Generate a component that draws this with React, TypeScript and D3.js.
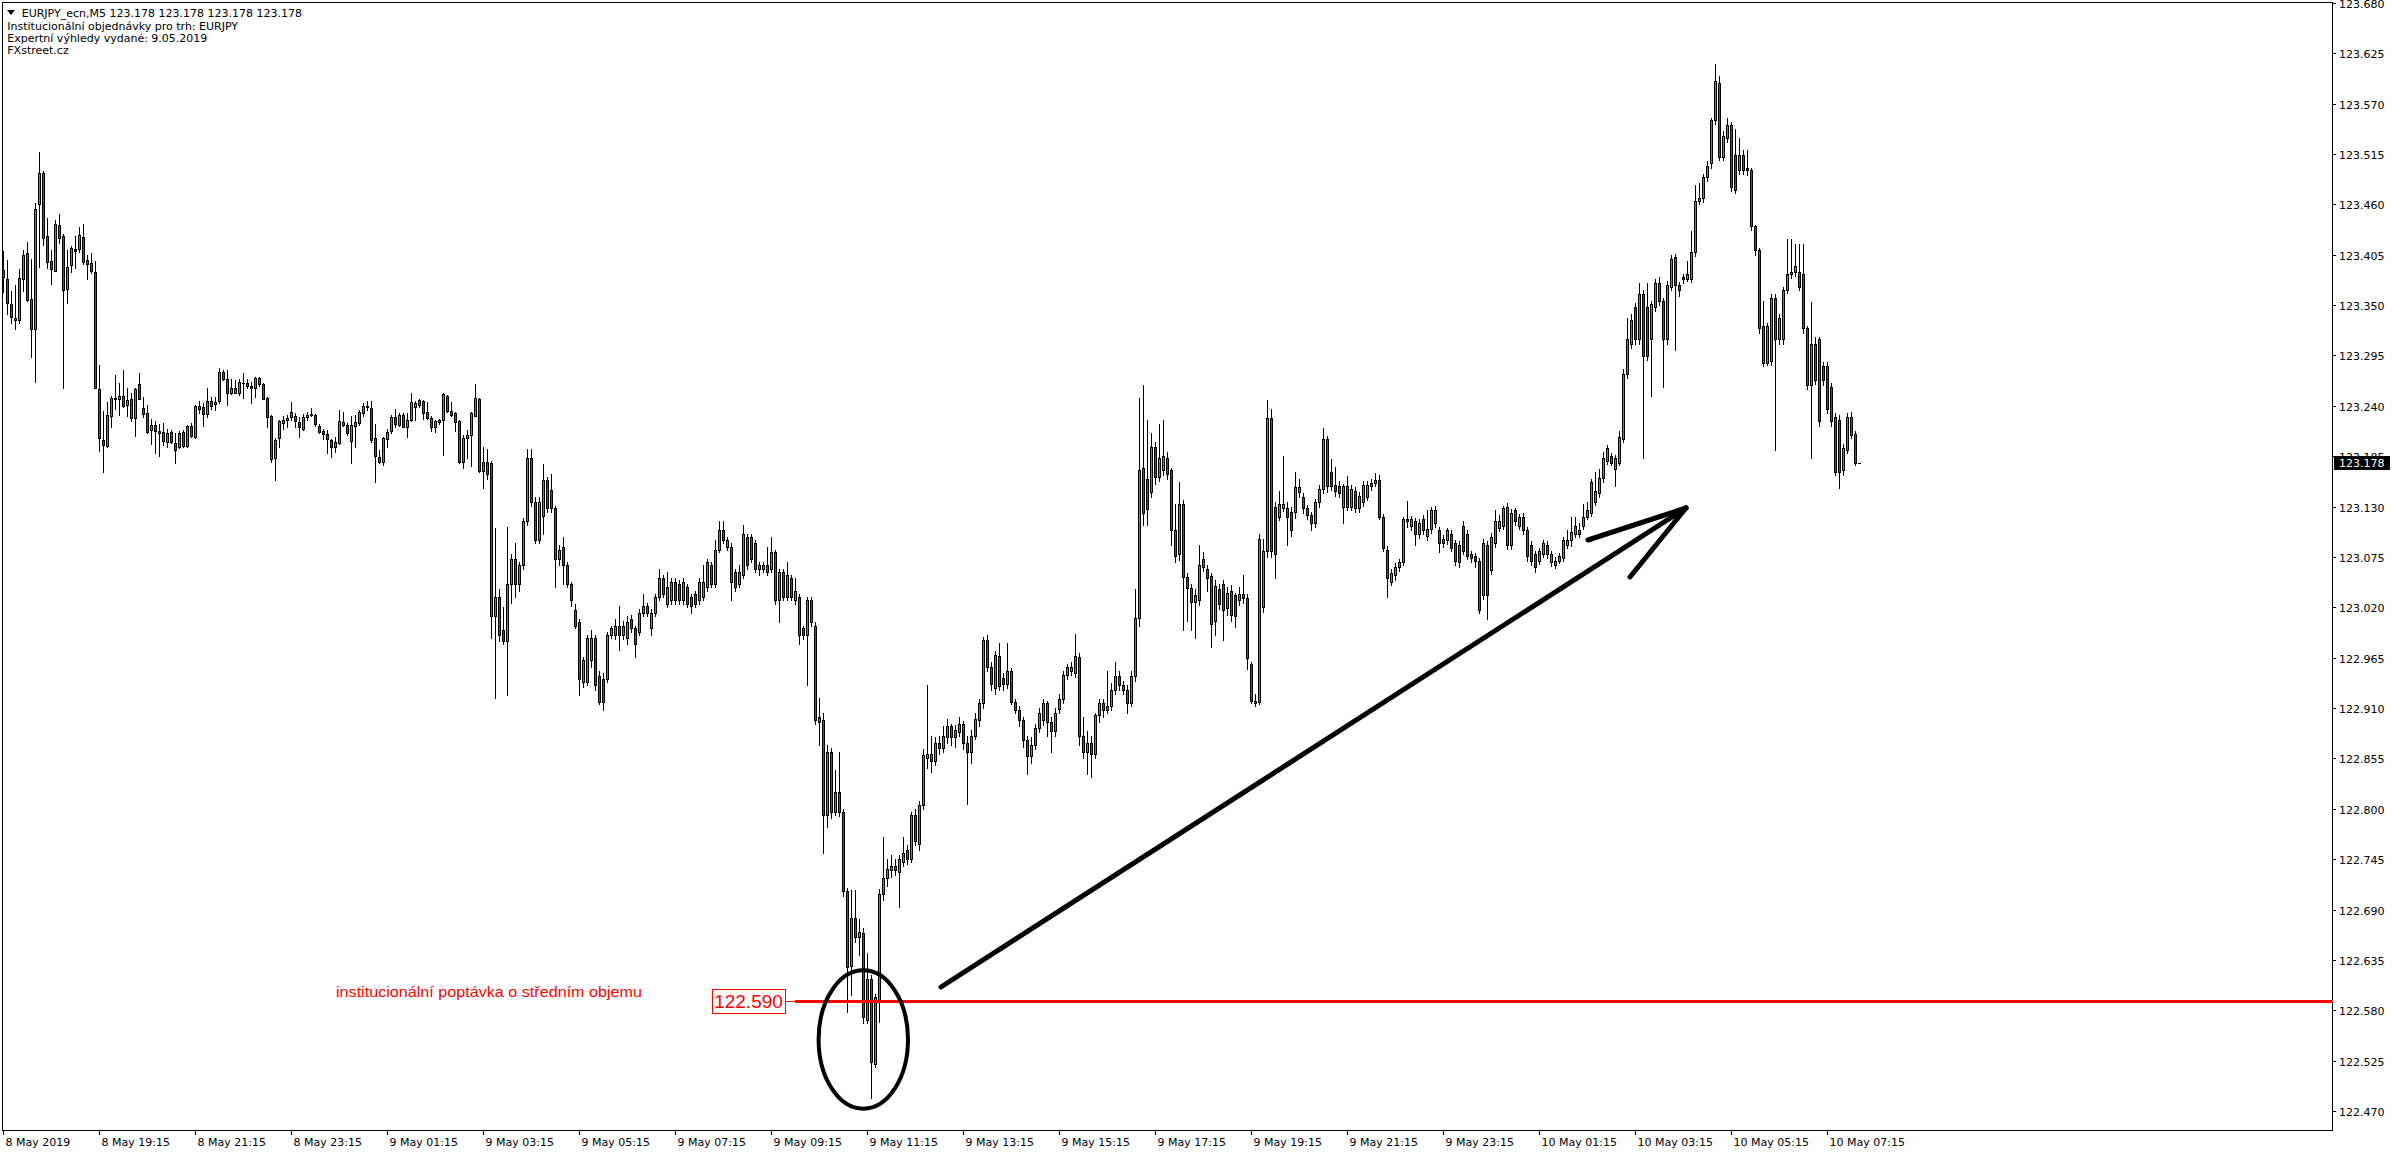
import React from 'react';
import * as d3 from 'd3';

if (typeof document !== 'undefined') {
  document.body.style.margin = '0';
}

// ---- OHLC data (EURJPY M5), bar 0 = 8 May 17:15 ----
const opens = [
123.388,123.379,123.351,123.336,123.334,123.379,123.407,123.357,123.324,123.460,
123.494,123.425,123.398,123.387,123.437,123.425,123.368,123.394,123.411,123.411,
123.424,123.399,123.396,123.386,123.258,123.203,123.196,123.229,123.248,123.248,
123.251,123.241,123.247,123.227,123.264,123.238,123.232,123.214,123.219,123.213,
123.211,123.201,123.211,123.199,123.195,123.211,123.196,123.218,123.206,123.240,
123.239,123.231,123.245,123.242,123.245,123.277,123.269,123.254,123.254,123.254,
123.265,123.265,123.260,123.260,123.270,123.264,123.249,123.229,123.183,123.205,
123.221,123.225,123.228,123.229,123.222,123.215,123.228,123.230,123.230,123.218,
123.213,123.209,123.203,123.195,123.199,123.222,123.219,123.202,123.218,123.221,
123.232,123.239,123.238,123.205,123.184,123.179,123.204,123.213,123.228,123.219,
123.230,123.217,123.224,123.239,123.246,123.245,123.233,123.227,123.217,123.222,
123.224,123.251,123.234,123.232,123.223,123.179,123.205,123.208,123.229,123.248,
123.169,123.179,123.178,123.011,123.031,122.995,122.983,123.045,123.073,123.045,
123.066,123.114,123.183,123.135,123.093,123.120,123.159,123.148,123.128,123.073,
123.086,123.066,123.045,123.017,123.004,122.938,122.938,122.962,122.986,122.945,
122.942,122.942,122.990,122.990,123.000,122.990,122.986,123.007,122.997,122.993,
123.014,123.021,122.997,123.014,123.031,123.052,123.024,123.028,123.048,123.045,
123.028,123.042,123.031,123.035,123.028,123.031,123.042,123.066,123.045,123.083,
123.104,123.086,123.086,123.059,123.045,123.055,123.097,123.097,123.090,123.062,
123.062,123.066,123.062,123.080,123.028,123.059,123.031,123.052,123.028,123.031,
122.997,122.990,123.028,123.000,122.900,122.897,122.793,122.862,122.796,122.818,
122.796,122.710,122.628,122.681,122.660,122.664,122.569,122.614,122.521,122.591,
122.707,122.724,122.733,122.738,122.731,122.742,122.755,122.745,122.793,122.762,
122.804,122.856,122.860,122.852,122.872,122.866,122.878,122.890,122.878,122.884,
122.893,122.872,122.862,122.880,122.897,122.915,122.984,122.955,122.932,122.967,
122.943,122.936,122.950,122.917,122.908,122.897,122.875,122.858,122.870,122.888,
122.897,122.915,122.895,122.885,122.909,122.920,122.946,122.950,122.948,122.966,
122.880,122.862,122.872,122.860,122.902,122.915,122.908,122.912,122.930,122.945,
122.935,122.930,122.915,122.945,123.008,123.172,123.160,123.146,123.195,123.162,
123.170,123.183,123.170,123.104,123.078,123.133,123.053,123.041,123.026,123.028,
123.064,123.062,123.054,123.005,123.040,123.045,123.019,123.038,123.033,123.028,
123.035,123.030,122.958,122.915,122.917,123.020,123.081,123.227,123.130,123.119,
123.128,123.128,123.124,123.124,123.146,123.140,123.128,123.121,123.112,123.135,
123.149,123.204,123.168,123.154,123.152,123.130,123.152,123.130,123.147,123.128,
123.135,123.140,123.152,123.156,123.159,123.119,123.083,123.048,123.055,123.064,
123.069,123.116,123.109,123.114,123.100,123.116,123.098,123.105,123.112,123.104,
123.095,123.093,123.100,123.090,123.088,123.109,123.100,123.078,123.076,123.071,
123.033,123.088,123.061,123.090,123.107,123.109,123.130,123.088,123.126,123.109,
123.119,123.104,123.088,123.078,123.071,123.078,123.088,123.069,123.066,123.071,
123.074,123.088,123.093,123.100,123.100,123.109,123.119,123.123,123.135,123.145,
123.161,123.180,123.185,123.171,123.178,123.204,123.275,123.308,123.348,123.313,
123.362,123.348,123.313,123.348,123.374,123.355,123.313,123.370,123.403,123.372,
123.381,123.379,123.379,123.408,123.464,123.467,123.490,123.505,123.552,123.593,
123.512,123.533,123.547,123.514,123.497,123.514,123.500,123.497,123.436,123.410,
123.327,123.287,123.289,123.358,123.313,123.313,123.367,123.384,123.386,123.386,
123.384,123.325,123.263,123.308,123.313,123.284,123.284,123.261,123.228,123.225,
123.170,123.192,123.228,123.209,123.178
];
const highs = [
123.409,123.399,123.365,123.372,123.389,123.410,123.419,123.400,123.462,123.517,
123.496,123.445,123.410,123.443,123.449,123.428,123.410,123.415,123.425,123.435,
123.439,123.405,123.407,123.398,123.285,123.234,123.244,123.251,123.274,123.265,
123.279,123.259,123.254,123.260,123.276,123.250,123.241,123.226,123.223,123.220,
123.221,123.215,123.214,123.210,123.212,123.214,123.219,123.221,123.241,123.245,
123.243,123.259,123.250,123.250,123.281,123.279,123.279,123.269,123.268,123.269,
123.276,123.269,123.266,123.272,123.272,123.265,123.250,123.230,123.205,123.225,
123.229,123.230,123.244,123.232,123.228,123.231,123.233,123.238,123.231,123.220,
123.215,123.214,123.204,123.206,123.235,123.233,123.221,123.229,123.230,123.235,
123.243,123.245,123.245,123.220,123.192,123.206,123.215,123.230,123.237,123.232,
123.232,123.232,123.254,123.245,123.247,123.246,123.244,123.229,123.225,123.226,
123.254,123.252,123.244,123.233,123.225,123.208,123.214,123.233,123.264,123.249,
123.195,123.193,123.180,123.107,123.040,123.020,123.108,123.078,123.090,123.070,
123.118,123.193,123.193,123.140,123.140,123.176,123.162,123.166,123.131,123.088,
123.097,123.069,123.048,123.024,123.007,122.966,122.990,122.995,122.990,122.950,
122.948,122.993,123.000,123.007,123.021,123.005,123.010,123.012,123.000,123.018,
123.035,123.025,123.018,123.035,123.062,123.055,123.059,123.052,123.052,123.050,
123.052,123.045,123.034,123.038,123.052,123.066,123.073,123.069,123.093,123.114,
123.114,123.097,123.090,123.062,123.066,123.110,123.100,123.100,123.093,123.069,
123.069,123.086,123.097,123.083,123.062,123.062,123.069,123.055,123.052,123.035,
123.000,123.031,123.031,123.004,122.921,122.905,122.870,122.866,122.842,122.862,
122.800,122.714,122.711,122.711,122.680,122.670,122.643,122.618,122.598,122.712,
122.769,122.745,122.750,122.745,122.750,122.769,122.760,122.797,122.800,122.808,
122.865,122.935,122.880,122.878,122.880,122.890,122.898,122.893,122.892,122.900,
122.896,122.880,122.886,122.905,122.920,122.988,122.990,122.960,122.972,122.981,
122.948,122.981,122.954,122.920,122.912,122.900,122.880,122.878,122.893,122.910,
122.920,122.918,122.900,122.910,122.925,122.950,122.958,122.960,122.991,122.970,
122.900,122.885,122.880,122.905,122.920,122.920,122.950,122.937,122.960,122.950,
122.940,122.935,122.950,123.040,123.249,123.263,123.225,123.210,123.200,123.220,
123.224,123.190,123.172,123.133,123.157,123.137,123.058,123.045,123.040,123.088,
123.080,123.066,123.058,123.050,123.046,123.050,123.042,123.044,123.036,123.042,
123.055,123.034,122.960,122.925,123.100,123.095,123.246,123.237,123.135,123.147,
123.185,123.135,123.130,123.168,123.160,123.145,123.132,123.124,123.138,123.154,
123.216,123.207,123.182,123.173,123.158,123.155,123.163,123.154,123.151,123.146,
123.158,123.158,123.160,123.167,123.165,123.122,123.087,123.062,123.068,123.073,
123.119,123.136,123.120,123.118,123.116,123.121,123.126,123.130,123.131,123.108,
123.099,123.107,123.104,123.094,123.092,123.114,123.104,123.081,123.079,123.074,
123.095,123.092,123.101,123.126,123.121,123.131,123.134,123.127,123.128,123.122,
123.123,123.108,123.092,123.082,123.085,123.094,123.092,123.082,123.075,123.079,
123.097,123.104,123.119,123.119,123.112,123.133,123.135,123.160,123.168,123.171,
123.190,123.197,123.189,123.186,123.213,123.280,123.336,123.340,123.352,123.374,
123.366,123.374,123.355,123.378,123.381,123.358,123.376,123.405,123.406,123.375,
123.384,123.398,123.431,123.481,123.483,123.493,123.507,123.554,123.613,123.600,
123.540,123.554,123.550,123.542,123.533,123.519,123.519,123.500,123.438,123.412,
123.355,123.330,123.362,123.362,123.340,123.370,123.422,123.422,123.417,123.417,
123.417,123.327,123.353,123.315,123.315,123.288,123.288,123.265,123.232,123.230,
123.198,123.232,123.233,123.213,123.178
];
const lows = [
123.364,123.340,123.330,123.324,123.330,123.365,123.354,123.293,123.266,123.392,
123.416,123.391,123.373,123.387,123.418,123.260,123.352,123.386,123.391,123.408,
123.395,123.379,123.385,123.259,123.191,123.168,123.195,123.217,123.237,123.230,
123.239,123.229,123.223,123.207,123.247,123.228,123.210,123.198,123.188,123.185,
123.197,123.195,123.199,123.178,123.194,123.195,123.195,123.206,123.205,123.232,
123.218,123.228,123.237,123.235,123.243,123.268,123.241,123.253,123.254,123.252,
123.249,123.259,123.243,123.250,123.262,123.247,123.217,123.179,123.159,123.195,
123.215,123.217,123.225,123.217,123.206,123.214,123.225,123.229,123.218,123.210,
123.204,123.188,123.184,123.190,123.198,123.218,123.208,123.178,123.195,123.219,
123.229,123.236,123.201,123.157,123.178,123.175,123.195,123.210,123.217,123.218,
123.217,123.206,123.223,123.225,123.239,123.226,123.226,123.212,123.211,123.220,
123.186,123.233,123.229,123.213,123.178,123.172,123.183,123.174,123.229,123.168,
123.150,123.160,122.986,122.921,122.983,122.980,122.924,123.025,123.031,123.038,
123.062,123.110,123.131,123.090,123.090,123.100,123.124,123.124,123.042,123.066,
123.045,123.042,123.021,122.997,122.924,122.933,122.935,122.955,122.930,122.914,
122.908,122.938,122.986,122.985,122.973,122.985,122.980,122.993,122.966,122.990,
123.010,123.010,122.990,123.010,123.028,123.031,123.020,123.024,123.024,123.024,
123.024,123.020,123.014,123.020,123.024,123.028,123.038,123.042,123.042,123.080,
123.090,123.083,123.028,123.038,123.042,123.052,123.062,123.069,123.059,123.055,
123.059,123.055,123.059,123.024,123.004,123.028,123.028,123.028,123.024,122.980,
122.985,122.935,123.000,122.893,122.870,122.752,122.780,122.790,122.793,122.792,
122.705,122.578,122.597,122.655,122.640,122.566,122.566,122.484,122.518,122.567,
122.700,122.716,122.725,122.728,122.693,122.738,122.740,122.742,122.760,122.755,
122.800,122.845,122.840,122.848,122.860,122.862,122.872,122.870,122.868,122.880,
122.865,122.805,122.850,122.876,122.890,122.910,122.950,122.930,122.925,122.930,
122.930,122.932,122.914,122.905,122.890,122.868,122.838,122.850,122.865,122.884,
122.892,122.880,122.862,122.880,122.905,122.915,122.942,122.946,122.944,122.870,
122.855,122.838,122.835,122.855,122.895,122.900,122.905,122.908,122.925,122.930,
122.925,122.905,122.912,122.940,123.000,123.110,123.110,123.140,123.155,123.158,
123.165,123.160,123.088,123.070,123.072,122.995,123.005,122.995,122.986,123.022,
123.060,123.038,122.977,122.990,123.018,122.984,123.012,123.005,122.998,123.022,
123.025,122.953,122.915,122.912,122.914,123.015,123.075,123.075,123.052,123.115,
123.125,123.088,123.098,123.118,123.140,123.123,123.116,123.104,123.108,123.130,
123.145,123.146,123.148,123.142,123.140,123.112,123.126,123.126,123.124,123.124,
123.131,123.137,123.148,123.152,123.116,123.082,123.031,123.044,123.050,123.060,
123.066,123.108,123.104,123.088,123.096,123.100,123.094,123.101,123.108,123.080,
123.086,123.089,123.081,123.066,123.064,123.078,123.073,123.069,123.064,123.014,
123.029,123.007,123.056,123.086,123.103,123.105,123.084,123.084,123.110,123.105,
123.100,123.071,123.066,123.059,123.067,123.075,123.074,123.065,123.063,123.068,
123.071,123.085,123.087,123.097,123.097,123.106,123.116,123.120,123.132,123.141,
123.157,123.176,123.175,123.152,123.175,123.200,123.270,123.303,123.308,123.308,
123.183,123.290,123.251,123.344,123.350,123.261,123.308,123.366,123.301,123.360,
123.374,123.376,123.375,123.404,123.460,123.463,123.486,123.500,123.548,123.508,
123.508,123.528,123.475,123.472,123.493,123.493,123.492,123.432,123.405,123.320,
123.283,123.285,123.285,123.192,123.308,123.308,123.363,123.380,123.382,123.366,
123.320,123.258,123.183,123.264,123.218,123.263,123.232,123.218,123.164,123.150,
123.164,123.188,123.205,123.175,123.178
];
const closes = [
123.381,123.352,123.337,123.334,123.380,123.405,123.356,123.324,123.455,123.494,
123.423,123.397,123.389,123.439,123.423,123.367,123.392,123.412,123.409,123.427,
123.397,123.395,123.387,123.260,123.205,123.197,123.230,123.249,123.249,123.251,
123.240,123.246,123.227,123.258,123.248,123.231,123.211,123.219,123.213,123.210,
123.202,123.210,123.201,123.192,123.210,123.196,123.218,123.207,123.240,123.237,
123.231,123.245,123.240,123.244,123.277,123.269,123.254,123.260,123.260,123.266,
123.265,123.262,123.262,123.270,123.264,123.248,123.228,123.182,123.203,123.223,
123.225,123.227,123.233,123.223,123.217,123.228,123.230,123.231,123.220,123.211,
123.209,123.204,123.195,123.201,123.223,123.219,123.210,123.219,123.222,123.233,
123.240,123.240,123.203,123.185,123.179,123.205,123.211,123.228,123.220,123.230,
123.217,123.225,123.244,123.243,123.241,123.232,123.227,123.217,123.223,123.225,
123.253,123.234,123.230,123.222,123.179,123.205,123.208,123.232,123.249,123.169,
123.179,123.166,123.011,123.031,122.990,122.983,123.045,123.073,123.045,123.066,
123.114,123.183,123.135,123.093,123.135,123.159,123.128,123.128,123.073,123.083,
123.066,123.045,123.028,123.000,122.942,122.962,122.986,122.986,122.935,122.917,
122.917,122.990,122.997,123.000,122.990,123.000,123.004,122.997,122.980,123.014,
123.021,123.014,123.014,123.031,123.052,123.035,123.042,123.048,123.028,123.028,
123.048,123.024,123.021,123.024,123.048,123.048,123.069,123.045,123.083,123.104,
123.093,123.093,123.048,123.042,123.059,123.100,123.066,123.073,123.062,123.066,
123.066,123.059,123.080,123.028,123.059,123.031,123.055,123.031,123.038,122.990,
122.990,123.028,123.004,122.897,122.895,122.793,122.862,122.796,122.818,122.796,
122.710,122.627,122.681,122.660,122.666,122.573,122.614,122.523,122.594,122.707,
122.724,122.734,122.738,122.733,122.745,122.752,122.745,122.793,122.765,122.804,
122.859,122.860,122.852,122.872,122.866,122.880,122.890,122.878,122.886,122.893,
122.872,122.862,122.880,122.898,122.915,122.984,122.955,122.936,122.968,122.934,
122.936,122.950,122.917,122.908,122.897,122.875,122.858,122.870,122.888,122.905,
122.915,122.895,122.885,122.905,122.920,122.946,122.955,122.955,122.967,122.880,
122.862,122.872,122.860,122.902,122.915,122.908,122.912,122.930,122.945,122.935,
122.930,122.915,122.945,123.008,123.170,123.123,123.127,123.195,123.162,123.183,
123.185,123.166,123.104,123.076,123.133,123.053,123.041,123.026,123.033,123.066,
123.073,123.052,123.002,123.043,123.024,123.017,123.036,123.012,123.010,123.035,
123.030,122.965,122.918,122.918,123.095,123.081,123.227,123.081,123.078,123.133,
123.133,123.119,123.104,123.151,123.151,123.128,123.121,123.112,123.135,123.149,
123.204,123.152,123.152,123.147,123.145,123.152,123.130,123.149,123.128,123.142,
123.154,123.154,123.156,123.159,123.119,123.085,123.052,123.057,123.064,123.069,
123.116,123.114,123.116,123.100,123.112,123.104,123.105,123.126,123.126,123.090,
123.090,123.104,123.085,123.071,123.069,123.081,123.076,123.074,123.071,123.017,
123.090,123.033,123.097,123.114,123.114,123.128,123.088,123.123,123.114,123.119,
123.104,123.076,123.071,123.064,123.081,123.090,123.078,123.078,123.071,123.076,
123.093,123.093,123.102,123.109,123.104,123.119,123.126,123.157,123.147,123.161,
123.183,123.194,123.178,123.183,123.206,123.275,123.313,123.334,123.313,123.362,
123.294,123.294,123.351,123.374,123.355,123.313,123.372,123.400,123.372,123.367,
123.379,123.384,123.408,123.464,123.467,123.490,123.502,123.552,123.595,123.512,
123.535,123.547,123.479,123.476,123.514,123.497,123.497,123.436,123.410,123.325,
123.287,123.327,123.358,123.313,123.336,123.367,123.384,123.386,123.393,123.370,
123.325,123.263,123.308,123.268,123.223,123.268,123.237,123.223,123.168,123.168,
123.194,123.228,123.208,123.178,123.178
];

const priceTicks = [
  '123.680','123.625','123.570','123.515','123.460','123.405','123.350','123.295',
  '123.240','123.185','123.130','123.075','123.020','122.965','122.910','122.855',
  '122.800','122.745','122.690','122.635','122.580','122.525','122.470'
];
const timeLabels = [
  '8 May 2019','8 May 19:15','8 May 21:15','8 May 23:15','9 May 01:15','9 May 03:15',
  '9 May 05:15','9 May 07:15','9 May 09:15','9 May 11:15','9 May 13:15','9 May 15:15',
  '9 May 17:15','9 May 19:15','9 May 21:15','9 May 23:15','10 May 01:15','10 May 03:15',
  '10 May 05:15','10 May 07:15'
];
const timeLabelBars = [0,24,48,72,96,120,144,168,192,216,240,264,288,312,336,360,384,408,432,456];

const headerLines = [
  'EURJPY_ecn,M5  123.178 123.178 123.178 123.178',
  'Institucionální objednávky pro trh: EURJPY',
  'Expertní výhledy vydané: 9.05.2019',
  'FXstreet.cz'
];
const currentPrice = 123.178;
const levelPrice = 122.590;
const levelLabel = '122.590';
const levelNote = 'institucionální poptávka o středním objemu';

const GREEN = '#2fb02f';
const RED = '#e8101a';
const FONT = '"DejaVu Sans", Verdana, sans-serif';

export default function App() {
  const W = 2396, H = 1154;
  const plotL = 2.5, plotR = 2332.5, plotT = 2.5, plotB = 1130.5;
  const y = d3.scaleLinear().domain([122.470, 123.680]).range([1111, 2.9]);
  const x = d3.scaleLinear().domain([0, 464]).range([3, 1859]);

  const candles = opens.map((o, i) => {
    const c = closes[i];
    const h = highs[i];
    const l = lows[i];
    const px = Math.round(x(i));
    const yH = Math.round(y(Math.max(h, o, c)));
    const yL = Math.round(y(Math.min(l, o, c)));
    const yT = Math.round(y(Math.max(o, c)));
    const yB = Math.round(y(Math.min(o, c)));
    const color = c > o ? GREEN : c < o ? RED : null;
    const bodyH = yB - yT;
    return (
      <g key={i}>
        <rect x={px} y={yH} width={1} height={Math.max(1, yL - yH + 1)} fill="#000" />
        {bodyH >= 2 && color ? (
          <>
            <rect x={px - 1} y={yT} width={3} height={bodyH + 1} fill="#000" />
            <rect x={px} y={yT + 1} width={1} height={bodyH - 1} fill={color} />
          </>
        ) : (
          <rect x={px - 1} y={yT} width={3} height={Math.max(1, bodyH + 1)} fill="#000" />
        )}
      </g>
    );
  });

  const yLevel = Math.round(y(levelPrice));
  const yCur = y(currentPrice);

  return (
    <svg width={W} height={H} style={{ display: 'block', background: '#fff' }} fontFamily={FONT}>
      <rect x={0} y={0} width={W} height={H} fill="#fff" />
      {/* plot frame */}
      <rect x={plotL} y={plotT} width={plotR - plotL} height={plotB - plotT} fill="none" stroke="#000" strokeWidth={1} shapeRendering="crispEdges" />

      {/* candles */}
      <g shapeRendering="crispEdges">{candles}</g>

      {/* red level line */}
      <rect x={795} y={yLevel - 1} width={plotR - 795} height={3} fill="#ff0000" shapeRendering="crispEdges" />
      <line x1={785.7} x2={795} y1={yLevel + 0.5} y2={yLevel + 0.5} stroke="#ff0000" strokeWidth={1} shapeRendering="crispEdges" />
      <rect x={712} y={989.5} width={73.5} height={23.5} fill="#fff" stroke="#ff0000" strokeWidth={1} shapeRendering="crispEdges" />
      <text x={748.5} y={1008} textAnchor="middle" fontSize={19} fill="#ff0000" fontFamily='"Liberation Sans", Arial, sans-serif'>{levelLabel}</text>
      <text x={336} y={997} fontSize={15} fill="#ff0000" fontFamily='"Liberation Sans", Arial, sans-serif' textLength={306} lengthAdjust="spacingAndGlyphs">{levelNote}</text>

      {/* hand-drawn ellipse and arrow */}
      <ellipse cx={863.3} cy={1039.5} rx={44.7} ry={69.2} fill="none" stroke="#000" strokeWidth={4} />
      <g stroke="#000" strokeWidth={5} strokeLinecap="round" fill="none">
        <line x1={941} y1={987} x2={1686} y2={508} />
        <line x1={1588} y1={540} x2={1686} y2={508} />
        <line x1={1630} y1={577} x2={1686} y2={508} />
      </g>

      {/* price axis */}
      <g fontSize={11} fill="#000">
        {priceTicks.map((t) => {
          const ty = Math.round(y(+t)) + 0.5;
          return (
            <g key={t}>
              <line x1={plotR} x2={plotR + 3.5} y1={ty} y2={ty} stroke="#000" strokeWidth={1} shapeRendering="crispEdges" />
              <text x={2339} y={ty + 4}>{t}</text>
            </g>
          );
        })}
      </g>
      {/* current price box */}
      <rect x={2334} y={Math.round(yCur) - 7} width={56} height={14} fill="#000" />
      <text x={2339} y={Math.round(yCur) + 4} fontSize={11} fill="#fff">{currentPrice.toFixed(3)}</text>

      {/* time axis */}
      <g fontSize={11} fill="#000">
        {timeLabels.map((t, k) => {
          const tx = Math.round(x(timeLabelBars[k])) + 0.5;
          return (
            <g key={t}>
              <line x1={tx} x2={tx} y1={plotB} y2={plotB + 4} stroke="#000" strokeWidth={1} shapeRendering="crispEdges" />
              <text x={tx + 2} y={1146}>{t}</text>
            </g>
          );
        })}
      </g>

      {/* header */}
      <polygon points="7,10 15,10 11,15" fill="#000" />
      <g fontSize={11} fill="#000">
        <text x={21.7} y={17.3}>{headerLines[0]}</text>
        <text x={7.3} y={29.5}>{headerLines[1]}</text>
        <text x={7.3} y={41.7}>{headerLines[2]}</text>
        <text x={7.3} y={53.9}>{headerLines[3]}</text>
      </g>
    </svg>
  );
}
